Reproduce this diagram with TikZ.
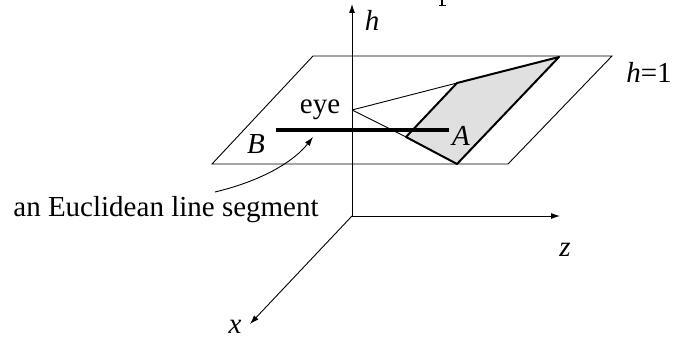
\documentclass[tikz,border=0pt]{standalone}
\usepackage{fontspec}
\setmainfont{Liberation Serif}
\usetikzlibrary{arrows.meta,positioning,calc}
\definecolor{lightgray}{RGB}{224,224,224}
\tikzset{
  lbl/.style={inner sep=0pt,font=\fontsize{29}{31}\selectfont},
  axis/.style={-{Latex[length=9pt,width=6pt]},line width=0.9pt},
  thin line/.style={line width=0.9pt},
  bold line/.style={line width=2pt,line join=round},
}
\begin{document}
\begin{tikzpicture}[x=1pt,y=-1pt]
\useasboundingbox (0,0) rectangle (674,339);
\coordinate (o) at (352,216);
\coordinate (htip) at (352,4);
\coordinate (ztip) at (560,216);
\coordinate (xtip) at (250,324);
\coordinate (pa) at (313,56);
\coordinate (pb) at (612,56);
\coordinate (pc) at (508,164);
\coordinate (pd) at (212,164);
\coordinate (eyept) at (352,110);
\coordinate (sa) at (559,57);
\coordinate (sb) at (457,83);
\coordinate (sc) at (406,137);
\coordinate (sd) at (457,164);
\coordinate (segl) at (276,130);
\coordinate (segr) at (449,130);
\coordinate (cfrom) at (215,192);
\coordinate (cto) at (313,137);
\coordinate (stubtop) at (442,0);
\coordinate (stubbot) at (442,5);
\coordinate (stubl) at (438.5,5);
\coordinate (stubr) at (446,5);
\fill[lightgray] (sa) -- (sb) -- (sc) -- (sd) -- cycle;
\draw[thin line] (pa) -- (pb) -- (pc) -- (pd) -- cycle;
\draw[thin line] (eyept) -- (sb);
\draw[thin line] (eyept) -- (sc);
\draw[bold line] (sd) -- (sc) -- (sb) -- (sa) -- cycle;
\draw[axis] (o) -- (htip);
\draw[axis] (o) -- (ztip);
\draw[axis] (o) -- (xtip);
\draw[line width=3.3pt] (segl) -- (segr);
\draw[-{Latex[length=9pt,width=6pt]},thin line] (cfrom) .. controls (265,180) and (295,160) .. (cto);
\draw[line width=2pt] (stubtop) -- (stubbot);
\draw[line width=0.8pt] (stubl) -- (stubr);
\node[lbl] (hlab) at (372,20.5) {\textit{h}};
\node[lbl] (planelab) at (649,72) {\textit{h}=1};
\node[lbl] (eyelab) at (320,109.5) {eye};
\node[lbl] (blab) at (256,144) {\textit{B}};
\node[lbl] (alab) at (461,136) {\textit{A}};
\node[lbl] (zlab) at (565,250) {\textit{z}};
\node[lbl] (xlab) at (235,327) {\textit{x}};
\node[lbl] (seglab) at (166,210) {an Euclidean line segment};
\end{tikzpicture}
\end{document}
